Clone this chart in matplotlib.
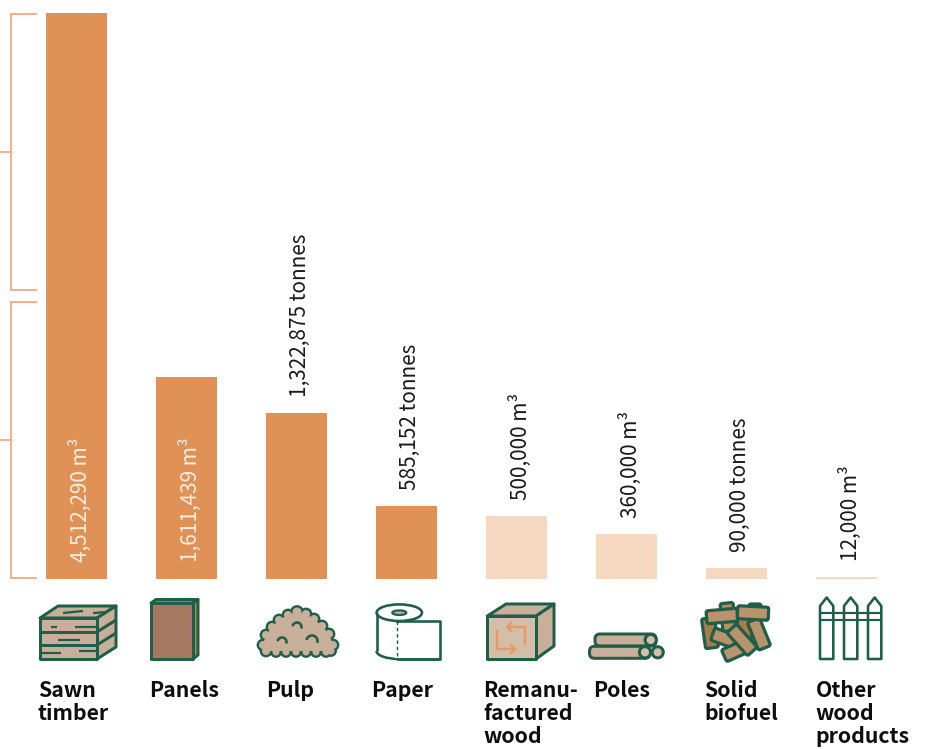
"""Wood product output by category: bars on top, a small icon and a name below each one."""

import matplotlib
matplotlib.use("Agg")
import matplotlib.pyplot as plt
from matplotlib.patches import Arc, Circle, Ellipse, FancyBboxPatch, Polygon, Rectangle
from matplotlib.transforms import Affine2D

names = ["Sawn\ntimber", "Panels", "Pulp", "Paper", "Remanu-\nfactured\nwood", "Poles",
         "Solid\nbiofuel", "Other\nwood\nproducts"]
values = [4512290, 1611439, 1322875, 585152, 500000, 360000, 90000, 12000]
value_labels = ["4,512,290 m³", "1,611,439 m³", "1,322,875 tonnes", "585,152 tonnes",
                "500,000 m³", "360,000 m³", "90,000 tonnes", "12,000 m³"]
inside_bar = [True, True, False, False, False, False, False, False]
name_x = [38, 149.5, 266.5, 371.5, 483, 593.5, 704.5, 815.5]

W, H = 925, 749
BASE_Y = 579
TOP_Y = 13
PX = 0.72  # one pixel in points at dpi 100

ORANGE = "#E09156"
PALE = "#F5D8BF"
GREEN = "#1F5E47"
TAN = "#C8AF9A"
BAR_COLORS = [ORANGE, ORANGE, ORANGE, ORANGE, PALE, PALE, PALE, PALE]
BRACKET = "#ECA070"

plt.rcParams["font.family"] = ["Noto Sans CJK SC", "DejaVu Sans"]

fig = plt.figure(figsize=(W / 100, H / 100), dpi=100)

# bars sit on a full-figure axes, scaled so the baseline lands at BASE_Y
ax = fig.add_axes([0, 0, 1, 1])
per_px = max(values) / (BASE_Y - TOP_Y)
ax.set_xlim(-76.5 / 110, (W - 76.5) / 110)
ax.set_ylim(-(H - BASE_Y) * per_px, BASE_Y * per_px)
ax.axis("off")
ax.bar(range(len(values)), values, width=61 / 110, color=BAR_COLORS)

for i, (v, lab, inside) in enumerate(zip(values, value_labels, inside_bar)):
    ax.annotate(lab, xy=(i, 0 if inside else v), xytext=(3.5 * PX, 17 * PX if inside else 16 * PX),
                textcoords="offset points", rotation=90, ha="center", va="bottom",
                fontsize=20.8 * PX, color="#FBEFE4" if inside else "#1A1A1A")

# overlay in pixel coordinates for the brackets, icons and names
ov = fig.add_axes([0, 0, 1, 1], facecolor="none")
ov.set_xlim(0, W)
ov.set_ylim(H, 0)
ov.axis("off")


def line(xs, ys, color=GREEN, lw=2.6, **kw):
    ov.plot(xs, ys, color=color, lw=lw * PX, solid_capstyle=kw.pop("cap", "butt"),
            solid_joinstyle="miter", **kw)


def poly(pts, face, lw=3.0):
    ov.add_patch(Polygon(pts, closed=True, facecolor=face, edgecolor=GREEN, lw=lw * PX,
                         joinstyle="round"))


def pellet(cx, cy, w, h, angle, face):
    tr = Affine2D().rotate_deg_around(cx, cy, angle) + ov.transData
    ov.add_patch(FancyBboxPatch((cx - w / 2 + 2, cy - h / 2 + 2), w - 4, h - 4,
                                boxstyle="round,pad=2", facecolor=face, edgecolor=GREEN,
                                lw=3.2 * PX, transform=tr))


# brackets at the left edge
for top, bottom, mid in [(14, 290, 152), (302, 578, 440)]:
    line([37, 11, 11, 37], [top, top, bottom, bottom], color=BRACKET, lw=1.6)
    line([0, 11], [mid, mid], color=BRACKET, lw=1.6)

# sawn timber
poly([(40, 618), (58, 606), (116, 606), (97, 618)], TAN)
poly([(97, 618), (116, 606), (116, 647), (97, 659)], TAN)
poly([(40, 618), (97, 618), (97, 659), (40, 659)], TAN)
for y in (632, 645):
    line([40, 97], [y, y], lw=3.0)
    line([97, 116], [y, y - 12], lw=3.0)
for xs, ys in [((63, 83), (613, 611)), ((93, 107), (613, 612)), ((51, 57), (627, 627)),
               ((75, 96), (627, 627)), ((58, 80), (640, 640)), ((40, 61), (653, 653)),
               ((79, 97), (651, 651))]:
    line(xs, ys, lw=2.2)

# panels
poly([(151, 603), (156, 599.5), (198, 599.5), (193, 603)], TAN)
poly([(193, 603), (198, 599.5), (198, 655), (193, 659)], "#A98B50")
poly([(151, 603), (193, 603), (193, 659), (151, 659)], "#A67762")

# pulp: scallops drawn twice so only the outer edge of the pile stays green
scallops = [(297, 612, 5.5), (288, 615, 5), (279, 620, 5), (272, 627, 5), (266, 635, 5),
            (263, 645, 5), (306, 614, 5), (314, 619, 5), (322, 626, 5), (329, 634, 5),
            (333, 645, 5), (266, 651, 5), (276, 652, 4.5), (286, 652, 4.5), (296, 652, 4.5),
            (306, 652, 4.5), (316, 652, 4.5), (326, 652, 4.5), (331, 651, 4.5)]
pile_body = [(263, 645), (266, 635), (272, 627), (279, 620), (288, 615), (297, 612), (306, 614),
             (314, 619), (322, 626), (329, 634), (333, 645), (331, 651), (266, 651)]
for cx, cy, r in scallops:
    ov.add_patch(Circle((cx, cy), r + 1.4, facecolor=GREEN, edgecolor="none"))
for cx, cy, r in scallops:
    ov.add_patch(Circle((cx, cy), r - 1.0, facecolor=TAN, edgecolor="none"))
ov.add_patch(Polygon(pile_body, closed=True, facecolor=TAN, edgecolor="none"))
for cx, cy, r in [(297, 627, 4.5), (282, 642, 4.5), (312, 641, 5.5)]:
    ov.add_patch(Arc((cx, cy), 2 * r, 2 * r, theta1=190, theta2=20, color=GREEN, lw=2.6 * PX))

# paper roll
ov.add_patch(Rectangle((377, 613), 45, 38, facecolor="white", edgecolor="none"))
line([377, 377], [613, 651])
ov.add_patch(Arc((399, 651), 45, 16, theta1=90, theta2=180, color=GREEN, lw=2.6 * PX))
line([399, 440], [659, 659])
ov.add_patch(Ellipse((399.3, 612.7), 45.4, 16.6, facecolor="white", edgecolor=GREEN, lw=2.6 * PX))
ov.add_patch(Ellipse((399.3, 612.7), 14, 4.6, facecolor=TAN, edgecolor=GREEN, lw=2.2 * PX))
poly([(397, 621), (439.5, 621), (439.5, 659), (397, 659)], "white", lw=2.6)
ov.add_patch(Rectangle((395, 622.5), 4, 35, facecolor="white", edgecolor="none"))
line([397, 397], [621, 659], lw=1.4, linestyle=(0, (2.5, 2)))

# remanufactured wood crate
poly([(487.3, 616), (506, 604), (554, 604), (536, 616)], TAN)
poly([(536, 616), (554, 604), (554, 646), (536, 659)], TAN)
poly([(487.3, 616), (536, 616), (536, 659), (487.3, 659)], "#D2BEA9")
line([525, 525, 507], [645, 627, 627], color="#E89A62", lw=2.4)
line([512, 507, 512], [622, 627, 632], color="#E89A62", lw=2.4)
line([497, 497, 515], [630, 649, 649], color="#E89A62", lw=2.4)
line([510, 515, 510], [644, 649, 654], color="#E89A62", lw=2.4)

# poles
for x0, x1, y in [(595, 651, 640), (589.5, 645, 652.3)]:
    ov.add_patch(FancyBboxPatch((x0 + 5, y - 1), x1 - x0 - 5, 2, boxstyle="round,pad=5",
                                facecolor=TAN, edgecolor=GREEN, lw=3.0 * PX))
for cx, cy in [(650.7, 640), (645, 652.3), (657.7, 652.3)]:
    ov.add_patch(Circle((cx, cy), 5.6, facecolor="#D2BEA9", edgecolor=GREEN, lw=3.0 * PX))

# solid biofuel pellets, back to front
for cx, cy, w, h, a, face in [(710, 633, 13, 30, -8, "#A97C4C"), (728, 617, 13, 28, -6, "#B58F66"),
                              (745, 626, 16, 32, 8, "#A97C4C"), (755, 612, 12, 16, 0, "#A97C4C"),
                              (759, 634, 13, 30, -22, "#B8936C"), (724, 638, 24, 13, 20, "#B8936C"),
                              (735, 651, 24, 13, -24, "#B8936C"), (742, 640, 13, 31, -42, "#B8936C"),
                              (722, 616, 31, 13, -5, "#B8936C"), (753, 613, 31, 13, 3, "#B8936C")]:
    pellet(cx, cy, w, h, a, face)

# fence
for y in (613, 620):
    line([820, 881], [y, y], lw=2.2)
for x0 in (820, 844, 868):
    poly([(x0, 659), (x0, 606), (x0 + 6.7, 597.5), (x0 + 13.3, 606), (x0 + 13.3, 659)], "white", lw=2.6)

# category names
for x, name in zip(name_x, names):
    ov.text(x, 680, name, ha="left", va="top", fontsize=21.3 * PX, fontweight="black",
            color="#0D0D0D", linespacing=1.13)

fig.savefig("out.png", dpi=100)
